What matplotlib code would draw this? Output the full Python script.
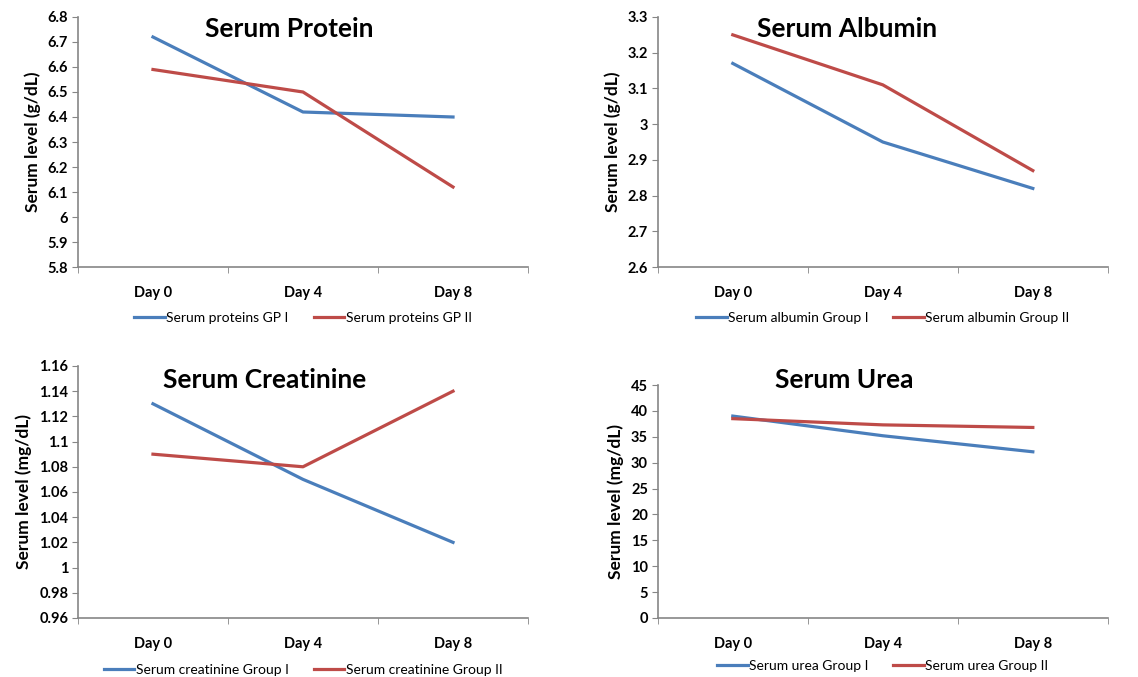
import matplotlib
matplotlib.use("Agg")
import matplotlib.pyplot as plt

plt.rcParams['font.family'] = ['Lato', 'DejaVu Sans']

days = ['Day 0', 'Day 4', 'Day 8']

protein_g1 = [6.72, 6.42, 6.40]
protein_g2 = [6.59, 6.50, 6.12]
albumin_g1 = [3.17, 2.95, 2.82]
albumin_g2 = [3.25, 3.11, 2.87]
creat_g1 = [1.13, 1.07, 1.02]
creat_g2 = [1.09, 1.08, 1.14]
urea_g1 = [39.0, 35.2, 32.1]
urea_g2 = [38.5, 37.3, 36.8]

BLUE = '#4a7ebb'
RED = '#be4b48'
GREY = '#868686'

fig = plt.figure(figsize=(11.38, 6.77), dpi=100)

panels = [
    # rect, g1, g2, ylim, yticks, ylabel, title, title pos, labels
    ([0.0685, 0.6056, 0.3955, 0.3693], protein_g1, protein_g2, (5.8, 6.8),
     [5.8 + 0.1 * i for i in range(11)], 'Serum level (g/dL)', 'Serum Protein', (0.47, 0.95),
     ['Serum proteins GP I', 'Serum proteins GP II']),
    ([0.578, 0.6056, 0.3955, 0.3693], albumin_g1, albumin_g2, (2.6, 3.3),
     [2.6 + 0.1 * i for i in range(8)], 'Serum level (g/dL)', 'Serum Albumin', (0.42, 0.95),
     ['Serum albumin Group I', 'Serum albumin Group II']),
    ([0.0685, 0.0872, 0.3955, 0.3722], creat_g1, creat_g2, (0.96, 1.16),
     [0.96 + 0.02 * i for i in range(11)], 'Serum level (mg/dL)', 'Serum Creatinine', (0.415, 0.945),
     ['Serum creatinine Group I', 'Serum creatinine Group II']),
    ([0.578, 0.0872, 0.3955, 0.3441], urea_g1, urea_g2, (0, 45),
     list(range(0, 50, 5)), 'Serum level (mg/dL)', 'Serum Urea', (0.415, 1.02),
     ['Serum urea Group I', 'Serum urea Group II']),
]

x = list(range(len(days)))

for rect, g1, g2, ylim, yticks, ylabel, title, tpos, labels in panels:
    ax = fig.add_axes(rect)
    ax.plot(x, g1, color=BLUE, lw=2.3, label=labels[0])
    ax.plot(x, g2, color=RED, lw=2.3, label=labels[1])
    ax.set_xlim(-0.5, 2.5)
    ax.set_ylim(*ylim)
    ax.set_yticks(yticks)
    ax.set_yticklabels(['{:g}'.format(round(v, 2)) for v in yticks], fontsize=10.5, fontweight='bold')
    ax.set_xticks(x)
    ax.set_xticklabels(days, fontsize=10.5, fontweight='bold')
    ax.set_xticks([-0.5, 0.5, 1.5, 2.5], minor=True)
    ax.tick_params(axis='x', which='major', length=0, pad=14)
    ax.tick_params(axis='x', which='minor', length=4, color=GREY)
    ax.tick_params(axis='y', length=4, color=GREY, pad=3)
    for s in ['top', 'right']:
        ax.spines[s].set_visible(False)
    for s in ['left', 'bottom']:
        ax.spines[s].set_color(GREY)
        ax.spines[s].set_linewidth(1.2)
    ax.set_ylabel(ylabel, fontsize=12.5, fontweight='bold', labelpad=5)
    ax.text(tpos[0], tpos[1], title, transform=ax.transAxes, fontsize=19,
            fontweight='bold', ha='center', va='center')
    ax.legend(loc='center', bbox_to_anchor=(0.5, -0.205), ncol=2, frameon=False,
              fontsize=10, handlelength=2.2, handletextpad=0.1, columnspacing=1.8)

fig.savefig('out.png', dpi=100)
